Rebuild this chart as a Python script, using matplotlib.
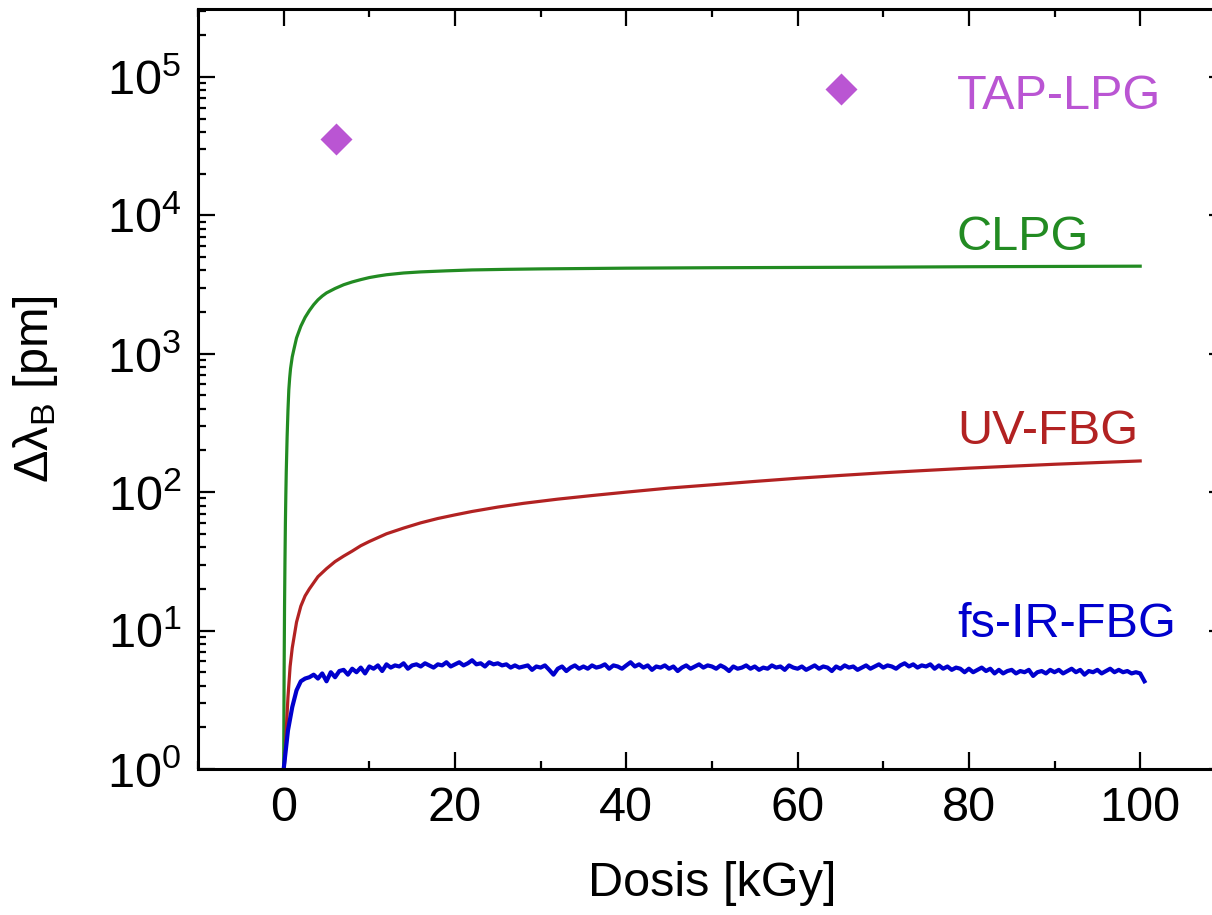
import numpy as np
import matplotlib
matplotlib.use("Agg")
import matplotlib.pyplot as plt
from matplotlib.ticker import LogLocator, LogFormatterMathtext, MultipleLocator, NullFormatter

plt.rcParams['font.family'] = ['Liberation Sans', 'DejaVu Sans']
plt.rcParams['mathtext.default'] = 'regular'

# TAP-LPG single measurements
tap_dose = [6.1, 65.1]
tap_shift = [35500, 82000]

# CLPG curve
clpg_dose = [0, 0.02, 0.05, 0.1, 0.15, 0.2, 0.25, 0.3, 0.4, 0.5, 0.6, 0.7, 0.8, 1, 1.2,
             1.5, 2, 2.5, 3, 3.5, 4, 4.5, 5, 6, 7, 8, 9, 10, 11, 12, 14, 16, 19, 22,
             26, 30, 40, 50, 60, 70, 80, 90, 100]
clpg_shift = [1, 2, 5, 15, 32, 60, 95, 140, 250, 390, 550, 670, 780, 950, 1080,
              1300, 1580, 1830, 2050, 2260, 2450, 2610, 2750, 2960, 3150, 3300, 3430,
              3550, 3640, 3720, 3830, 3900, 3970, 4030, 4070, 4100, 4150, 4180, 4200,
              4220, 4250, 4270, 4290]

# UV-FBG curve
uv_dose = [0, 0.1, 0.2, 0.35, 0.5, 0.75, 1, 1.5, 2, 2.5, 3, 4, 5, 6, 7, 8, 9, 10, 12,
           14, 16, 18, 20, 22, 25, 28, 32, 36, 40, 45, 50, 55, 60, 65, 70, 75, 80, 85,
           90, 95, 100]
uv_shift = [1, 1.1, 1.4, 2.2, 3.3, 5.5, 7.5, 11.5, 15, 17.8, 20, 24.5, 28, 31.5, 34.5,
            37.5, 41, 44, 50, 55, 60, 64.5, 68.5, 72.5, 78, 83, 89, 94.5, 100, 107,
            113, 119.5, 126, 132, 138, 143.5, 149, 154, 159, 163.5, 168]

# fs-IR-FBG measurement (0.5 kGy steps)
fs_dose = np.arange(0, 101, 0.5)
fs_shift = [
    1.0, 1.9, 2.8, 3.7, 4.3, 4.5, 4.6, 4.8, 4.5, 4.9,
    4.3, 5.0, 4.6, 5.1, 5.2, 4.8, 5.3, 5.0, 5.4, 4.9,
    5.5, 5.3, 5.6, 5.1, 5.7, 5.4, 5.6, 5.5, 5.8, 5.3,
    5.6, 5.7, 5.5, 5.8, 5.6, 5.4, 5.7, 5.6, 5.9, 5.5,
    5.7, 5.9, 5.6, 5.8, 6.1, 5.7, 5.8, 5.5, 5.9, 5.7,
    5.8, 5.6, 5.7, 5.4, 5.6, 5.4, 5.5, 5.6, 5.2, 5.5,
    5.4, 5.6, 5.2, 4.8, 5.3, 5.5, 5.1, 5.4, 5.6, 5.3,
    5.5, 5.3, 5.6, 5.4, 5.5, 5.7, 5.3, 5.6, 5.5, 5.3,
    5.6, 5.9, 5.5, 5.7, 5.4, 5.6, 5.2, 5.5, 5.4, 5.6,
    5.3, 5.5, 5.1, 5.4, 5.6, 5.3, 5.5, 5.7, 5.4, 5.6,
    5.5, 5.3, 5.6, 5.4, 5.1, 5.5, 5.3, 5.4, 5.6, 5.3,
    5.5, 5.2, 5.4, 5.3, 5.6, 5.4, 5.5, 5.2, 5.6, 5.4,
    5.3, 5.5, 5.2, 5.4, 5.6, 5.3, 5.5, 5.4, 5.1, 5.5,
    5.3, 5.6, 5.4, 5.5, 5.2, 5.4, 5.6, 5.3, 5.5, 5.7,
    5.4, 5.6, 5.5, 5.3, 5.6, 5.8, 5.5, 5.7, 5.4, 5.6,
    5.5, 5.7, 5.3, 5.6, 5.3, 5.5, 5.2, 5.4, 5.3, 5.0,
    5.3, 5.0, 5.2, 5.4, 5.1, 5.3, 4.9, 5.2, 4.9, 5.1,
    5.2, 4.9, 5.1, 5.0, 5.2, 4.7, 5.0, 5.1, 4.9, 5.2,
    5.0, 5.2, 4.9, 5.1, 5.3, 5.0, 5.2, 4.8, 5.1, 5.0,
    5.2, 4.9, 5.1, 5.3, 5.0, 5.2, 5.0, 5.1, 4.9, 5.0,
    4.9, 4.3,
]

labels = ['TAP-LPG', 'CLPG', 'UV-FBG', 'fs-IR-FBG']
label_y = [71600, 6870, 272, 11]
colors = ['#BA55D3', '#228B22', '#B22222', '#0000CD']

fig = plt.figure(figsize=(12.12, 9.15), dpi=100)
ax = fig.add_axes([0.1634, 0.1596, 0.848, 0.8305])

ax.plot(clpg_dose, clpg_shift, color=colors[1], lw=2.3)
ax.plot(uv_dose, uv_shift, color=colors[2], lw=2.3)
ax.plot(fs_dose, fs_shift, color=colors[3], lw=3.0)
ax.plot(tap_dose, tap_shift, 'D', color=colors[0], ms=16, mec='none')

for lab, yy, c in zip(labels, label_y, colors):
    ax.text(78.6, yy, lab, color=c, fontsize=35, va='center', ha='left')

ax.set_yscale('log')
ax.set_xlim(-10, 110)
ax.set_ylim(1, 10 ** 5.49)
ax.xaxis.set_major_locator(MultipleLocator(20))
ax.xaxis.set_minor_locator(MultipleLocator(10))
ax.yaxis.set_major_locator(LogLocator(base=10, numticks=10))
ax.yaxis.set_minor_locator(LogLocator(base=10, subs=np.arange(2, 10), numticks=20))
ax.yaxis.set_major_formatter(LogFormatterMathtext())
ax.yaxis.set_minor_formatter(NullFormatter())

ax.tick_params(which='both', direction='in', top=True, right=True, width=1.6,
               labelsize=35, pad=12)
ax.tick_params(which='major', length=12)
ax.tick_params(which='minor', length=6)
for sp in ax.spines.values():
    sp.set_linewidth(2.2)

ax.set_xlabel('Dosis [kGy]', fontsize=35, labelpad=22)
ax.set_ylabel('Δλ$_\\mathregular{B}$ [pm]', fontsize=35, labelpad=34)

fig.savefig('out.png', dpi=100)
